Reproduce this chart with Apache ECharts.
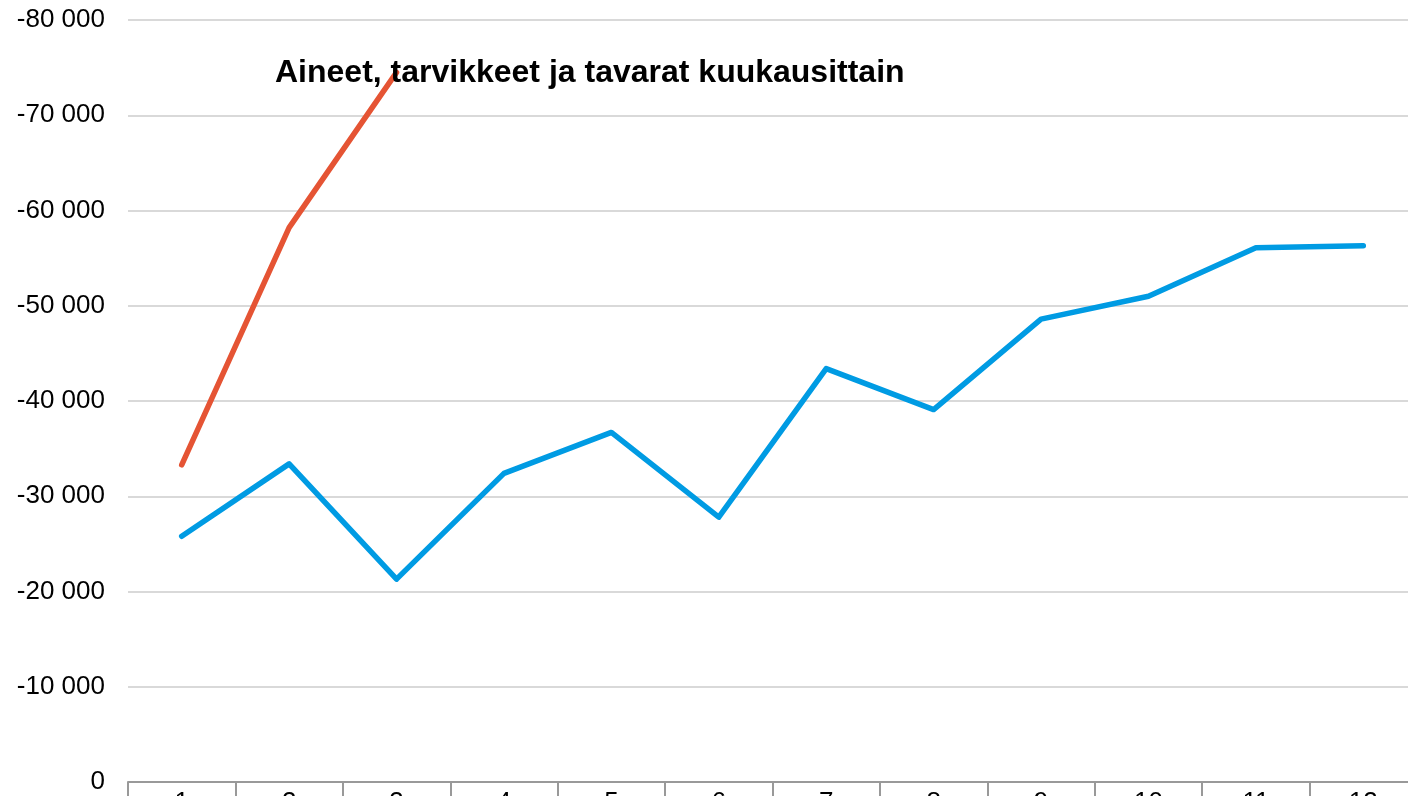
<!DOCTYPE html>
<html>
<head>
<meta charset="utf-8">
<script src="https://cdn.jsdelivr.net/npm/echarts@6/dist/echarts.min.js"></script>
<style>
  html, body { margin: 0; padding: 0; background: #fff; }
  #chart { width: 1408px; height: 796px; }
</style>
</head>
<body>
<div id="chart"></div>
<script>
var months = ['1', '2', '3', '4', '5', '6', '7', '8', '9', '10', '11', '12'];
var previousYear = [-25800, -33400, -21300, -32400, -36700, -27800, -43400, -39100, -48600, -51000, -56100, -56300];
var currentYear = [-33300, -58200, -74500];
var titleText = 'Aineet, tarvikkeet ja tavarat kuukausittain';

var fmt = function (v) {
  var s = String(Math.abs(v)).replace(/\B(?=(\d{3})+(?!\d))/g, ' ');
  return (v < 0 ? '-' : '') + s;
};

var chart = echarts.init(document.getElementById('chart'));
chart.setOption({
  animation: false,
  title: {
    text: titleText,
    left: 270,
    top: 52,
    textStyle: { fontFamily: 'Liberation Sans, Arial', fontSize: 32, fontWeight: 'bold', color: '#000' }
  },
  grid: { left: 128, right: -9, top: 20, bottom: 14, containLabel: false, outerBoundsMode: 'none' },
  xAxis: {
    type: 'category',
    data: months,
    boundaryGap: true,
    axisLine: { lineStyle: { color: '#999', width: 2 } },
    axisTick: { show: true, length: 20, lineStyle: { color: '#999', width: 2 } },
    axisLabel: { fontFamily: 'Liberation Sans, Arial', fontSize: 26, color: '#000', margin: 8 }
  },
  yAxis: {
    type: 'value',
    inverse: true,
    min: -80000,
    max: 0,
    interval: 10000,
    axisLine: { show: false },
    axisTick: { show: false },
    splitLine: { lineStyle: { color: '#d9d9d9', width: 2 } },
    axisLabel: {
      formatter: fmt,
      fontFamily: 'Liberation Sans, Arial',
      fontSize: 26,
      color: '#000',
      margin: 23
    }
  },
  series: [
    {
      type: 'line',
      data: previousYear,
      symbol: 'none',
      lineStyle: { color: '#009be3', width: 5.5, cap: 'round', join: 'round' }
    },
    {
      type: 'line',
      data: currentYear,
      symbol: 'none',
      lineStyle: { color: '#e55434', width: 5.5, cap: 'round', join: 'round' }
    }
  ]
});
</script>
</body>
</html>
